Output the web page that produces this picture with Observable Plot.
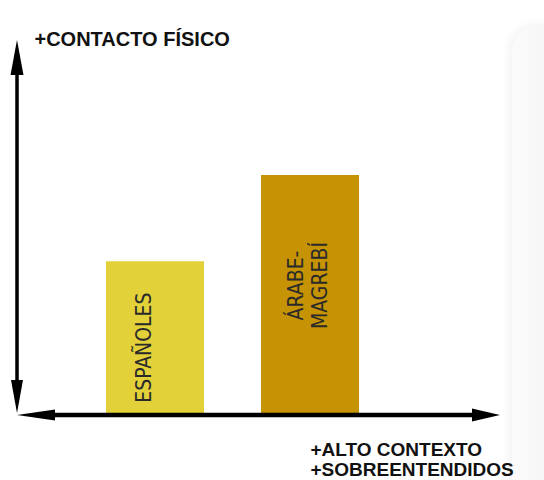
<!DOCTYPE html>
<html><head><meta charset="utf-8">
<script src="https://cdn.jsdelivr.net/npm/d3@7"></script>
<script src="https://cdn.jsdelivr.net/npm/@observablehq/plot@0.6"></script>
<style>
html,body{margin:0;padding:0;background:#fff;}
#wrap{position:relative;width:544px;height:480px;overflow:hidden;}
#panel{position:absolute;left:512px;top:26px;width:80px;height:520px;border-radius:26px;background:linear-gradient(to right,#fbfbfb,#f2f2f2);box-shadow:-3px -2px 10px rgba(0,0,0,0.05);}
#chart{position:absolute;left:0;top:0;}
</style></head><body>
<div id="wrap"><div id="panel"></div><div id="chart"></div></div>
<script>
const groups = ["ESPAÑOLES", "ÁRABE-\nMAGREBÍ"];
const values = [41, 64];
const colors = ["#e3d13a", "#c59303"];
const yLabel = ["+CONTACTO FÍSICO"];
const xLabel = ["+ALTO CONTEXTO\n+SOBREENTENDIDOS"];
const bars = groups.map((g, i) => ({group: g, value: values[i], color: colors[i]}));

function axes(index, scales, vals, dim) {
  const g = d3.create("svg:g");
  const x0 = dim.marginLeft, x1 = dim.width - dim.marginRight;
  const yTop = dim.marginTop, y0 = scales.y(0);
  // vertical double arrow
  g.append("line").attr("x1", x0).attr("x2", x0).attr("y1", yTop + 30).attr("y2", y0 - 30)
    .attr("stroke", "#000").attr("stroke-width", 3.5);
  g.append("path").attr("d", `M${x0},${yTop}L${x0 - 6.5},${yTop + 35}L${x0 + 6.5},${yTop + 35}Z`).attr("fill", "#000");
  g.append("path").attr("d", `M${x0},${y0 - 2}L${x0 - 6},${y0 - 35}L${x0 + 6},${y0 - 35}Z`).attr("fill", "#000");
  // horizontal double arrow
  g.append("line").attr("x1", x0 + 30).attr("x2", x1 - 25).attr("y1", y0).attr("y2", y0)
    .attr("stroke", "#000").attr("stroke-width", 4.5);
  g.append("path").attr("d", `M${x0},${y0}L${x0 + 38},${y0 - 5.5}L${x0 + 38},${y0 + 5.5}Z`).attr("fill", "#000");
  g.append("path").attr("d", `M${x1},${y0}L${x1 - 28},${y0 - 6.5}L${x1 - 28},${y0 + 6.5}Z`).attr("fill", "#000");
  return g.node();
}

const labelFont = "'Liberation Sans Narrow', 'Arial Narrow', 'DejaVu Sans Condensed', sans-serif";

const chart = Plot.plot({
  width: 544,
  height: 480,
  marginLeft: 17,
  marginRight: 44,
  marginTop: 40,
  marginBottom: 65,
  style: {background: "transparent", fontFamily: "'Liberation Sans', Arial, Helvetica, sans-serif", overflow: "visible"},
  x: {type: "band", domain: groups, range: [106, 359], paddingInner: 0.368, paddingOuter: 0, axis: null},
  y: {domain: [0, 100], axis: null},
  color: {type: "identity"},
  marks: [
    Plot.barY(bars, {x: "group", y: "value", fill: "color"}),
    Plot.text(bars.filter(d => d.group === groups[0]), {
      x: "group", y: d => d.value / 2, text: "group", rotate: -90,
      fontSize: 21, fontFamily: labelFont, fill: "#2a2a2a", dx: -11, dy: 9
    }),
    Plot.text(bars.filter(d => d.group === groups[1]), {
      x: "group", y: d => d.value / 2, text: "group", rotate: -90,
      fontSize: 21, fontFamily: labelFont, fill: "#2a2a2a", dx: -3, dy: -10, lineHeight: 1.15
    }),
    axes,
    Plot.text(yLabel, {
      text: d => d, frameAnchor: "top-left", textAnchor: "start", lineAnchor: "bottom",
      dx: 17, dy: 5, fontSize: 20, fontWeight: "bold", fill: "#111"
    }),
    Plot.text(xLabel, {
      text: d => d, frameAnchor: "bottom-left", textAnchor: "start", lineAnchor: "bottom",
      dx: 293, dy: 60, fontSize: 19, fontWeight: "bold", fill: "#111", lineHeight: 20 / 19
    })
  ]
});
document.getElementById("chart").appendChild(chart);
</script>
</body></html>
